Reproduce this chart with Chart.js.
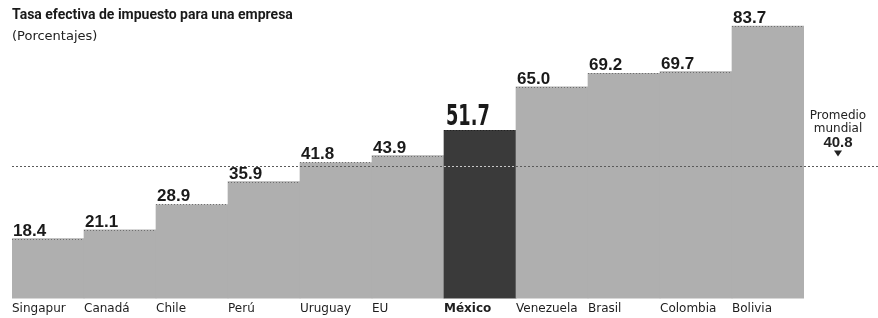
<!DOCTYPE html>
<html><head><meta charset="utf-8">
<script src="https://cdn.jsdelivr.net/npm/chart.js@4.4.1/dist/chart.umd.min.js"></script>
<style>
html,body{margin:0;padding:0;background:#fff;}
#wrap{position:relative;width:878px;height:318px;overflow:hidden;}
#title{position:absolute;left:12px;top:6px;font:bold 14px Roboto, sans-serif;color:#1a1a1a;white-space:nowrap;z-index:2;}
#sub{position:absolute;left:12px;top:28px;font:13px 'DejaVu Sans', sans-serif;color:#222;white-space:nowrap;z-index:2;}
canvas{position:absolute;left:0;top:0;}
</style></head>
<body>
<div id="wrap">
<canvas id="c" width="878" height="318"></canvas>
<div id="title">Tasa efectiva de impuesto para una empresa</div>
<div id="sub">(Porcentajes)</div>
</div>
<script>
const categories = ["Singapur","Canadá","Chile","Perú","Uruguay","EU","México","Venezuela","Brasil","Colombia","Bolivia"];
const values = [18.4, 21.1, 28.9, 35.9, 41.8, 43.9, 51.7, 65.0, 69.2, 69.7, 83.7];
const highlight = "México";
const worldAverage = 40.8;
const averageLabel = ["Promedio", "mundial"];

const GRAY = '#afafaf';
const DARK = '#3a3a3a';

const overlay = {
  id: 'overlay',
  afterDatasetsDraw(chart) {
    const ctx = chart.ctx;
    const meta = chart.getDatasetMeta(0);
    const y = chart.scales.y;
    const area = chart.chartArea;
    ctx.save();
    meta.data.forEach((bar, i) => {
      const half = bar.width / 2;
      ctx.beginPath();
      ctx.setLineDash([1, 2]);
      ctx.strokeStyle = categories[i] === highlight ? '#222' : '#6f6f6f';
      ctx.lineWidth = 1;
      ctx.moveTo(bar.x - half, Math.round(bar.y) + 0.5);
      ctx.lineTo(bar.x + half, Math.round(bar.y) + 0.5);
      ctx.stroke();
    });
    const ya = Math.round(y.getPixelForValue(worldAverage)) + 0.5;
    ctx.setLineDash([2, 2]);
    ctx.lineWidth = 1;
    ctx.strokeStyle = '#5a5a5a';
    ctx.beginPath();
    ctx.moveTo(area.left, ya);
    ctx.lineTo(chart.width, ya);
    ctx.stroke();
    const mi = categories.indexOf(highlight);
    if (mi >= 0) {
      const b = meta.data[mi];
      ctx.strokeStyle = '#c8c8c8';
      ctx.beginPath();
      ctx.moveTo(b.x - b.width / 2, ya);
      ctx.lineTo(b.x + b.width / 2, ya);
      ctx.stroke();
    }
    ctx.setLineDash([]);
    meta.data.forEach((bar, i) => {
      const left = bar.x - bar.width / 2;
      const txt = values[i].toFixed(1);
      ctx.fillStyle = '#1a1a1a';
      ctx.textAlign = 'left';
      ctx.textBaseline = 'alphabetic';
      if (categories[i] === highlight) {
        ctx.save();
        ctx.font = "bold 29px 'Liberation Sans Narrow', 'DejaVu Sans Condensed', 'Liberation Sans', sans-serif";
        ctx.translate(left + 2, bar.y - 5);
        ctx.scale(0.68, 1);
        ctx.fillText(txt, 0, 0);
        ctx.restore();
      } else {
        ctx.font = "bold 17px 'Liberation Sans', Arial, sans-serif";
        ctx.fillText(txt, left + 1, bar.y - 3);
      }
    });
    const cx = 838;
    ctx.textAlign = 'center';
    ctx.fillStyle = '#222';
    ctx.font = "12px 'DejaVu Sans', sans-serif";
    ctx.fillText(averageLabel[0], cx, ya - 48);
    ctx.fillText(averageLabel[1], cx, ya - 35);
    ctx.font = "bold 15px 'Liberation Sans', Arial, sans-serif";
    ctx.fillText(worldAverage.toFixed(1), cx, ya - 20);
    ctx.beginPath();
    ctx.moveTo(cx - 4, ya - 16);
    ctx.lineTo(cx + 4, ya - 16);
    ctx.lineTo(cx, ya - 10);
    ctx.closePath();
    ctx.fill();
    ctx.restore();
  }
};

new Chart(document.getElementById('c'), {
  type: 'bar',
  data: {
    labels: categories,
    datasets: [{
      data: values,
      backgroundColor: categories.map(c => c === highlight ? DARK : GRAY),
      borderWidth: 0,
      barPercentage: 1,
      categoryPercentage: 1
    }]
  },
  options: {
    responsive: false,
    devicePixelRatio: 1,
    animation: false,
    layout: { padding: { left: 12, right: 74, top: 0, bottom: -1 } },
    plugins: { legend: { display: false }, tooltip: { enabled: false }, title: { display: false } },
    scales: {
      x: {
        grid: { display: false, drawTicks: false },
        border: { display: false },
        ticks: {
          autoSkip: false,
          maxRotation: 0,
          align: 'start',
          labelOffset: -36,
          padding: 3,
          color: '#1e1e1e',
          font: (c) => ({
            family: "'DejaVu Sans', sans-serif",
            size: 12,
            weight: categories[c.index] === highlight ? 'bold' : 'normal'
          })
        }
      },
      y: { display: false, min: 0, max: 91.7 }
    }
  },
  plugins: [overlay]
});
</script>
</body></html>
